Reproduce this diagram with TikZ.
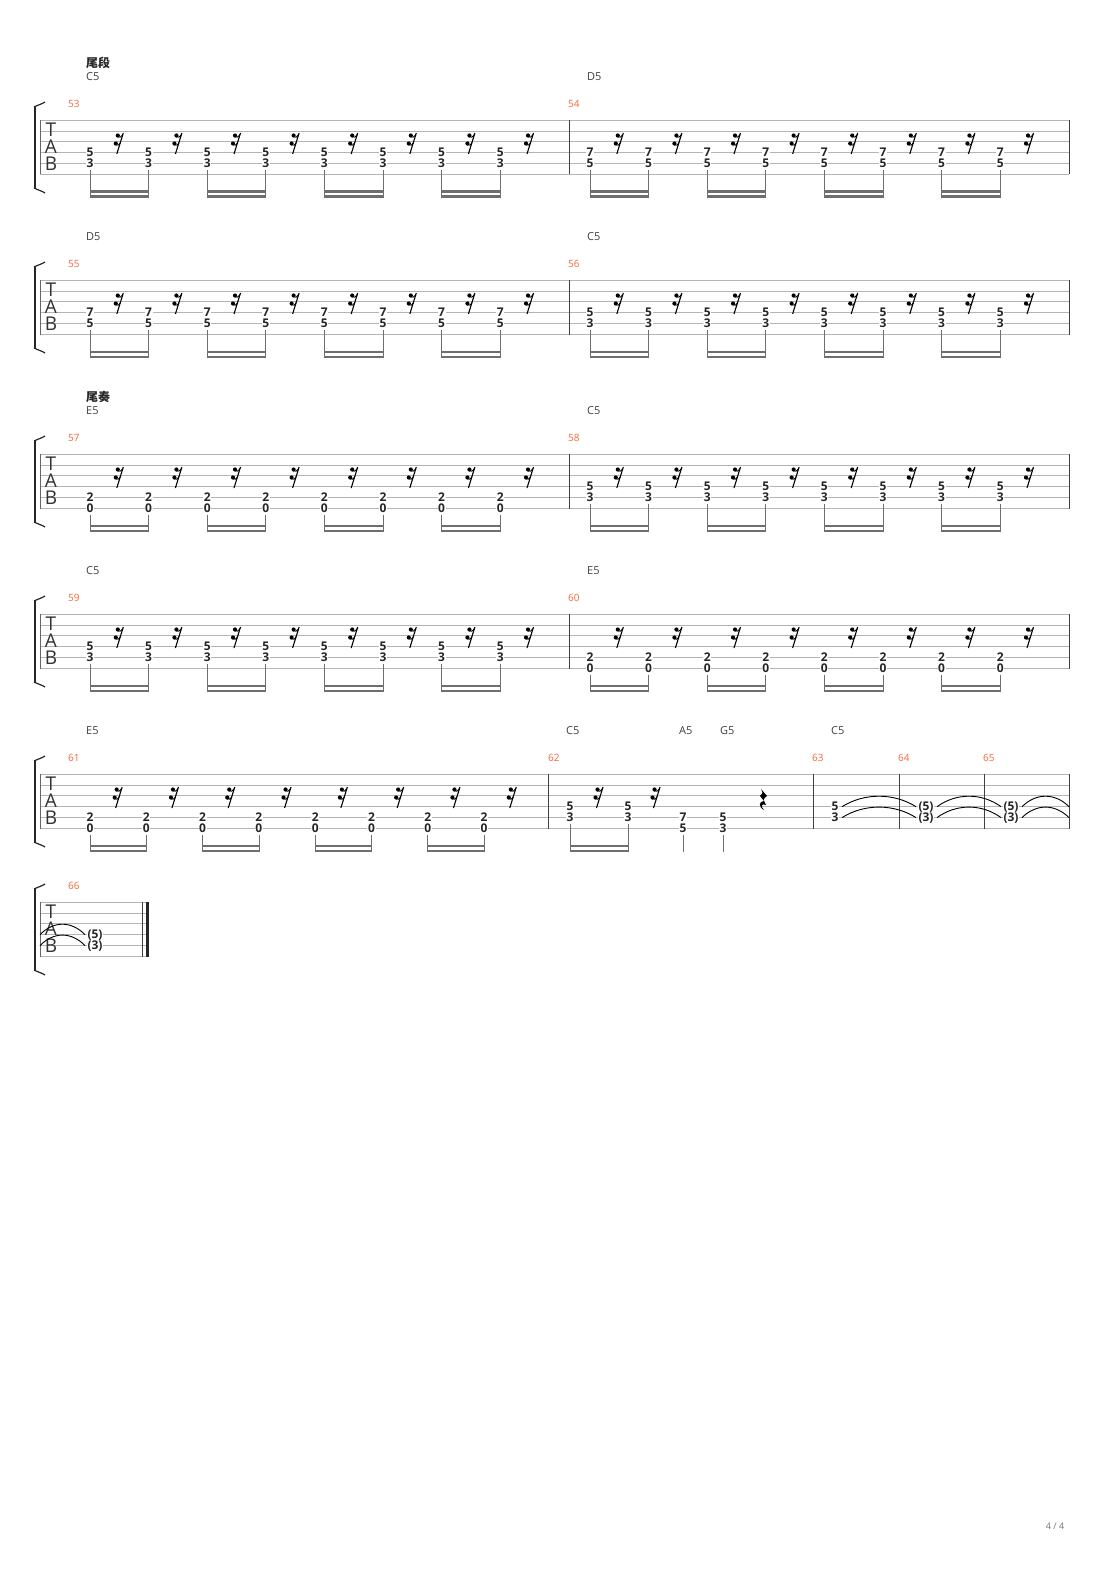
\documentclass[tikz,border=0pt]{standalone}
\usepackage{fontspec}
\setmainfont{Open Sans}
\newfontfamily\cjk{Noto Sans CJK SC}
\definecolor{mnum}{HTML}{F26A3A}
\definecolor{sline}{HTML}{B4B4B4}
\definecolor{beamc}{HTML}{6E6E6E}
\tikzset{
 num/.style={font=\fontsize{12}{12}\selectfont\bfseries, text=black!85, fill=white, inner sep=0.6pt},
 chord/.style={font=\fontsize{11}{11}\selectfont, text=black!75, anchor=west, inner sep=0},
 mno/.style={font=\fontsize{10}{10}\selectfont, text=mnum, anchor=west, inner sep=0},
 sect/.style={font=\cjk\fontsize{12}{12}\selectfont\bfseries, text=black!85, anchor=west, inner sep=0},
 tabl/.style={font=\fontsize{19}{19}\selectfont, text=black!80, inner sep=0},
}
\newcommand\mystaff[2]{%
 \foreach \k in {0,...,5}{\draw[sline,line width=0.7pt] (40,#1+\k*10.9) -- (#2,#1+\k*10.9);}
 \draw[black!60,line width=0.7pt] (40,#1) -- (40,#1+54.5);
 \draw[black!85,line width=2.6pt] (35,#1-13) -- (35,#1+68);
 \draw[black!85,line width=1.2pt] (34,#1-13) .. controls (38,#1-15) and (42,#1-16) .. (45,#1-18);
 \draw[black!85,line width=1.2pt] (34,#1+68) .. controls (38,#1+70) and (42,#1+71) .. (45,#1+73);
 \node[tabl] at (51,#1+10) {T};
 \node[tabl] at (51,#1+27) {A};
 \node[tabl] at (51,#1+44) {B};
}
\newcommand\mbar[2]{\draw[black!75,line width=0.9pt] (#1,#2) -- (#1,#2+54.5);}
\newcommand\srest[2]{%
 \draw[black,line width=1.1pt] (#1+4,#2+13) -- (#1-2.5,#2+34);
 \fill[black] (#1-1.5,#2+15.5) circle (2.1);
 \fill[black] (#1-3.5,#2+23.5) circle (2.1);
 \draw[black,line width=0.9pt] (#1-1.5,#2+17) .. controls (#1+1,#2+17.5) .. (#1+3.6,#2+14.5);
 \draw[black,line width=0.9pt] (#1-3.5,#2+25) .. controls (#1-1,#2+25.5) .. (#1+1.3,#2+22.5);
}
\newcommand\eight[6]{%
 \foreach \i in {0,...,7}{%
  \pgfmathsetmacro\xx{#1+\i*#2}
  \pgfmathsetmacro\rx{#1+\i*#2+#2/2}
  \node[num] at (\xx,#3+#6*10.9) {#4};
  \node[num] at (\xx,#3+#6*10.9+10.9) {#5};
  \draw[beamc,line width=0.8pt] (\xx,#3+#6*10.9+17) -- (\xx,#3+78);
  \srest{\rx}{#3}
 }
 \foreach \i in {0,2,4,6}{%
  \pgfmathsetmacro\xa{#1+\i*#2}
  \pgfmathsetmacro\xb{#1+\i*#2+#2}
  \fill[beamc] (\xa-0.4,#3+70.5) rectangle (\xb+0.4,#3+73);
  \fill[beamc] (\xa-0.4,#3+75.5) rectangle (\xb+0.4,#3+78);
 }
}
\newcommand\mytie[4]{%
 \draw[black,line width=0.9pt] (#1,#3) .. controls (#1+0.3*#2-0.3*#1,#3-#4) and (#1+0.7*#2-0.7*#1,#3-#4) .. (#2,#3);
}
\begin{document}
\begin{tikzpicture}[x=1pt,y=-1pt]
\fill[white] (0,0) rectangle (1110,1570);
\useasboundingbox (0,0) rectangle (1110,1570);
% system 1
\node[sect] at (86,63) {尾段};
\node[chord] at (86,77) {C5};
\node[chord] at (587,77) {D5};
\node[mno] at (68,104) {53};
\node[mno] at (568,104) {54};
\mystaff{120}{1069}
\mbar{569}{120}\mbar{1069}{120}
\eight{90}{58.6}{120}{5}{3}{3}
\eight{590}{58.6}{120}{7}{5}{3}
% system 2
\node[chord] at (86,237) {D5};
\node[chord] at (587,237) {C5};
\node[mno] at (68,264) {55};
\node[mno] at (568,264) {56};
\mystaff{280}{1069}
\mbar{569}{280}\mbar{1069}{280}
\eight{90}{58.6}{280}{7}{5}{3}
\eight{590}{58.6}{280}{5}{3}{3}
% system 3
\node[sect] at (86,397) {尾奏};
\node[chord] at (86,411) {E5};
\node[chord] at (587,411) {C5};
\node[mno] at (68,438) {57};
\node[mno] at (568,438) {58};
\mystaff{454}{1069}
\mbar{569}{454}\mbar{1069}{454}
\eight{90}{58.6}{454}{2}{0}{4}
\eight{590}{58.6}{454}{5}{3}{3}
% system 4
\node[chord] at (86,571) {C5};
\node[chord] at (587,571) {E5};
\node[mno] at (68,598) {59};
\node[mno] at (568,598) {60};
\mystaff{614}{1069}
\mbar{569}{614}\mbar{1069}{614}
\eight{90}{58.6}{614}{5}{3}{3}
\eight{590}{58.6}{614}{2}{0}{4}
% system 5
\node[chord] at (86,731) {E5};
\node[chord] at (566,731) {C5};
\node[chord] at (679,731) {A5};
\node[chord] at (720,731) {G5};
\node[chord] at (831,731) {C5};
\node[mno] at (68,758) {61};
\node[mno] at (548,758) {62};
\node[mno] at (812,758) {63};
\node[mno] at (898,758) {64};
\node[mno] at (983,758) {65};
\mystaff{774}{1069}
\mbar{548}{774}\mbar{813}{774}\mbar{899}{774}\mbar{984}{774}\mbar{1069}{774}
\eight{90}{56.3}{774}{2}{0}{4}
\node[num] at (570,806.7) {5};\node[num] at (570,817.6) {3};
\node[num] at (628,806.7) {5};\node[num] at (628,817.6) {3};
\draw[beamc,line width=0.8pt] (570,823.7) -- (570,852);
\draw[beamc,line width=0.8pt] (628,823.7) -- (628,852);
\fill[beamc] (569.6,844.5) rectangle (628.4,847);
\fill[beamc] (569.6,849.5) rectangle (628.4,852);
\srest{599}{774}\srest{656}{774}
\node[num] at (683,817.6) {7};\node[num] at (683,828.5) {5};
\node[num] at (723,817.6) {5};\node[num] at (723,828.5) {3};
\draw[beamc,line width=0.8pt] (683,835) -- (683,852);
\draw[beamc,line width=0.8pt] (723,835) -- (723,852);
\fill[black] (761,789) -- (767,796) .. controls (763,799) .. (766,805) .. controls (762,803) and (760,806) .. (764,810) .. controls (758,807) and (759,801) .. (764,801) -- (760,796) .. controls (763,793) .. (761,789) -- cycle;
\node[num] at (835,806.7) {5};\node[num] at (835,817.6) {3};
\node[num] at (926,806.7) {(5)};\node[num] at (926,817.6) {(3)};
\node[num] at (1011,806.7) {(5)};\node[num] at (1011,817.6) {(3)};
\mytie{842}{916}{806.7}{14}\mytie{842}{916}{817.6}{14}
\mytie{937}{1001}{806.7}{14}\mytie{937}{1001}{817.6}{14}
\mytie{1022}{1069}{806.7}{14}\mytie{1022}{1069}{817.6}{14}
% system 6
\node[mno] at (68,886) {66};
\mystaff{902}{148}
\draw[black!75,line width=0.9pt] (142.5,902) -- (142.5,956.5);
\draw[black!85,line width=3pt] (147,902) -- (147,956.5);
\node[num] at (95,934.7) {(5)};\node[num] at (95,945.6) {(3)};
\mytie{40}{85}{934.7}{14}\mytie{40}{85}{945.6}{14}
\node[font=\fontsize{9}{9}\selectfont, text=black!55] at (1055,1526) {4 / 4};
\end{tikzpicture}
\end{document}
